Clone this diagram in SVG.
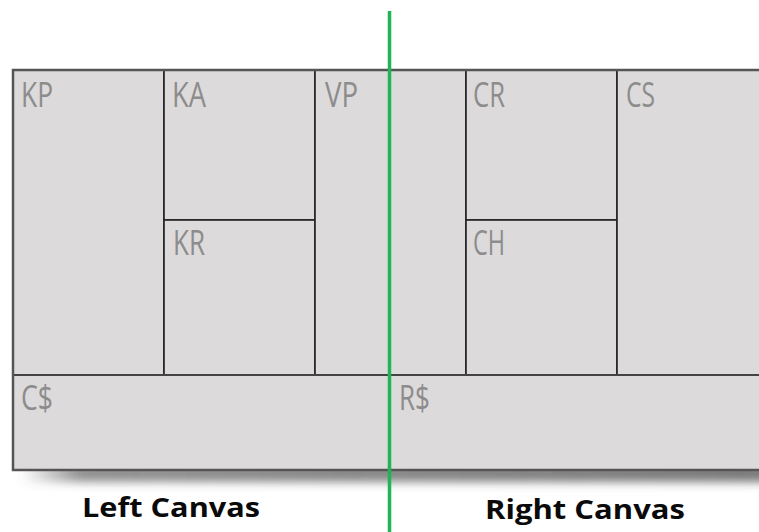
<svg xmlns="http://www.w3.org/2000/svg" width="759" height="532" viewBox="0 0 759 532">
  <defs>
    <filter id="sh" x="-10%" y="-100%" width="120%" height="300%">
      <feGaussianBlur stdDeviation="5"/>
    </filter>
    <linearGradient id="fadeL" x1="0" y1="0" x2="1" y2="0">
      <stop offset="0" stop-color="#555" stop-opacity="0"/>
      <stop offset="0.08" stop-color="#555" stop-opacity="0.65"/>
      <stop offset="1" stop-color="#555" stop-opacity="0.8"/>
    </linearGradient>
  </defs>
  <style>
    .cell { fill: #dcdadb; stroke: #222; stroke-width: 1.6; }
    .fillonly { fill: #dcdadb; stroke: none; }
    .lbl { font-family: "Open Sans", "Liberation Sans", sans-serif; font-size: 34px; fill: #8c8c8c; font-weight: 400; }
    .cap { font-family: "Open Sans", "Liberation Sans", sans-serif; font-size: 26px; font-weight: bold; fill: #0a0a0a; }
    .frame { fill: none; stroke: #555; stroke-width: 2.5; }
  </style>
  <rect width="759" height="532" fill="#ffffff"/>
  <!-- shadow -->
  <rect x="20" y="464" width="760" height="18" fill="url(#fadeL)" filter="url(#sh)"/>

  <g id="KP"><rect class="cell" x="13" y="70" width="151" height="305"/><text class="lbl" x="21" y="107" textLength="32" lengthAdjust="spacingAndGlyphs">KP</text></g>
  <g id="KA"><rect class="cell" x="164" y="70" width="151" height="150"/><text class="lbl" x="172" y="107" textLength="34" lengthAdjust="spacingAndGlyphs">KA</text></g>
  <g id="KR"><rect class="cell" x="164" y="220" width="151" height="155"/><text class="lbl" x="173" y="255" textLength="32" lengthAdjust="spacingAndGlyphs">KR</text></g>
  <g id="VP"><rect class="cell" x="315" y="70" width="151" height="305"/><text class="lbl" x="325" y="107" textLength="33" lengthAdjust="spacingAndGlyphs">VP</text></g>
  <g id="CR"><rect class="cell" x="466" y="70" width="151" height="150"/><text class="lbl" x="473" y="107" textLength="32" lengthAdjust="spacingAndGlyphs">CR</text></g>
  <g id="CH"><rect class="cell" x="466" y="220" width="151" height="155"/><text class="lbl" x="473" y="255" textLength="32" lengthAdjust="spacingAndGlyphs">CH</text></g>
  <g id="CS"><rect class="cell" x="617" y="70" width="151" height="305"/><text class="lbl" x="626" y="107" textLength="29" lengthAdjust="spacingAndGlyphs">CS</text></g>
  <g id="Cdollar"><rect class="fillonly" x="13" y="375" width="377" height="95"/><text class="lbl" x="21" y="410" textLength="32" lengthAdjust="spacingAndGlyphs">C$</text></g>
  <g id="Rdollar"><rect class="fillonly" x="390" y="375" width="378" height="95"/><text class="lbl" x="399" y="410" textLength="31" lengthAdjust="spacingAndGlyphs">R$</text></g>

  <g id="frame">
    <line x1="13" y1="375" x2="768" y2="375" stroke="#444" stroke-width="2"/>
    <rect class="frame" x="13" y="70" width="760" height="400"/>
  </g>

  <g id="connectors">
    <line x1="389.5" y1="11" x2="389.5" y2="532" stroke="#1fb550" stroke-width="3.5"/>
  </g>

  <g id="captions">
    <text class="cap" x="82" y="517" textLength="178" lengthAdjust="spacingAndGlyphs">Left Canvas</text>
    <text class="cap" x="485" y="519" textLength="200" lengthAdjust="spacingAndGlyphs">Right Canvas</text>
  </g>
</svg>
